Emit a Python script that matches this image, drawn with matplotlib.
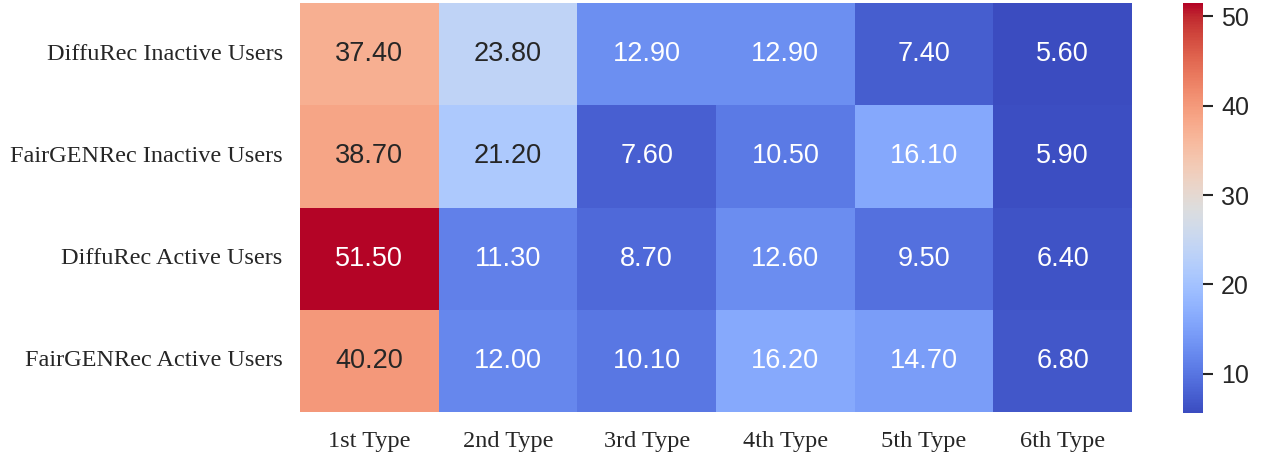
import numpy as np
import matplotlib.pyplot as plt
import seaborn as sns

rows = ['DiffuRec Inactive Users', 'FairGENRec Inactive Users',
        'DiffuRec Active Users', 'FairGENRec Active Users']
cols = ['1st Type', '2nd Type', '3rd Type', '4th Type', '5th Type', '6th Type']

diffurec_inactive = [37.4, 23.8, 12.9, 12.9, 7.4, 5.6]
fairgenrec_inactive = [38.7, 21.2, 7.6, 10.5, 16.1, 5.9]
diffurec_active = [51.5, 11.3, 8.7, 12.6, 9.5, 6.4]
fairgenrec_active = [40.2, 12.0, 10.1, 16.2, 14.7, 6.8]

data = np.array([diffurec_inactive, fairgenrec_inactive,
                 diffurec_active, fairgenrec_active])

sns.set_theme(style='white')
plt.rcParams['font.family'] = ['Liberation Sans', 'DejaVu Sans']

fig = plt.figure(figsize=(12.61, 4.57), dpi=100)
ax = fig.add_axes([300 / 1261, 45 / 457, 832 / 1261, 409 / 457])
cax = fig.add_axes([1183 / 1261, 44 / 457, 20 / 1261, 410 / 457])

sns.heatmap(data, ax=ax, cbar_ax=cax, cmap='coolwarm', annot=True, fmt='.2f',
            annot_kws={'fontsize': 19.5}, xticklabels=cols, yticklabels=rows)

for lab in ax.get_xticklabels() + ax.get_yticklabels():
    lab.set_family(['Liberation Serif'])
    lab.set_fontsize(17.5)
    lab.set_color('#262626')
ax.tick_params(axis='x', length=0, pad=14)
ax.tick_params(axis='y', length=0, pad=12.5)
ax.set_yticklabels(ax.get_yticklabels(), rotation=0)

cax.set_yticks([10, 20, 30, 40, 50])
cax.tick_params(axis='y', right=True, length=7, width=1.5, colors='#262626',
                labelsize=18, pad=6)
for s in cax.spines.values():
    s.set_visible(False)

plt.savefig('out.png', dpi=100)
plt.close('all')
